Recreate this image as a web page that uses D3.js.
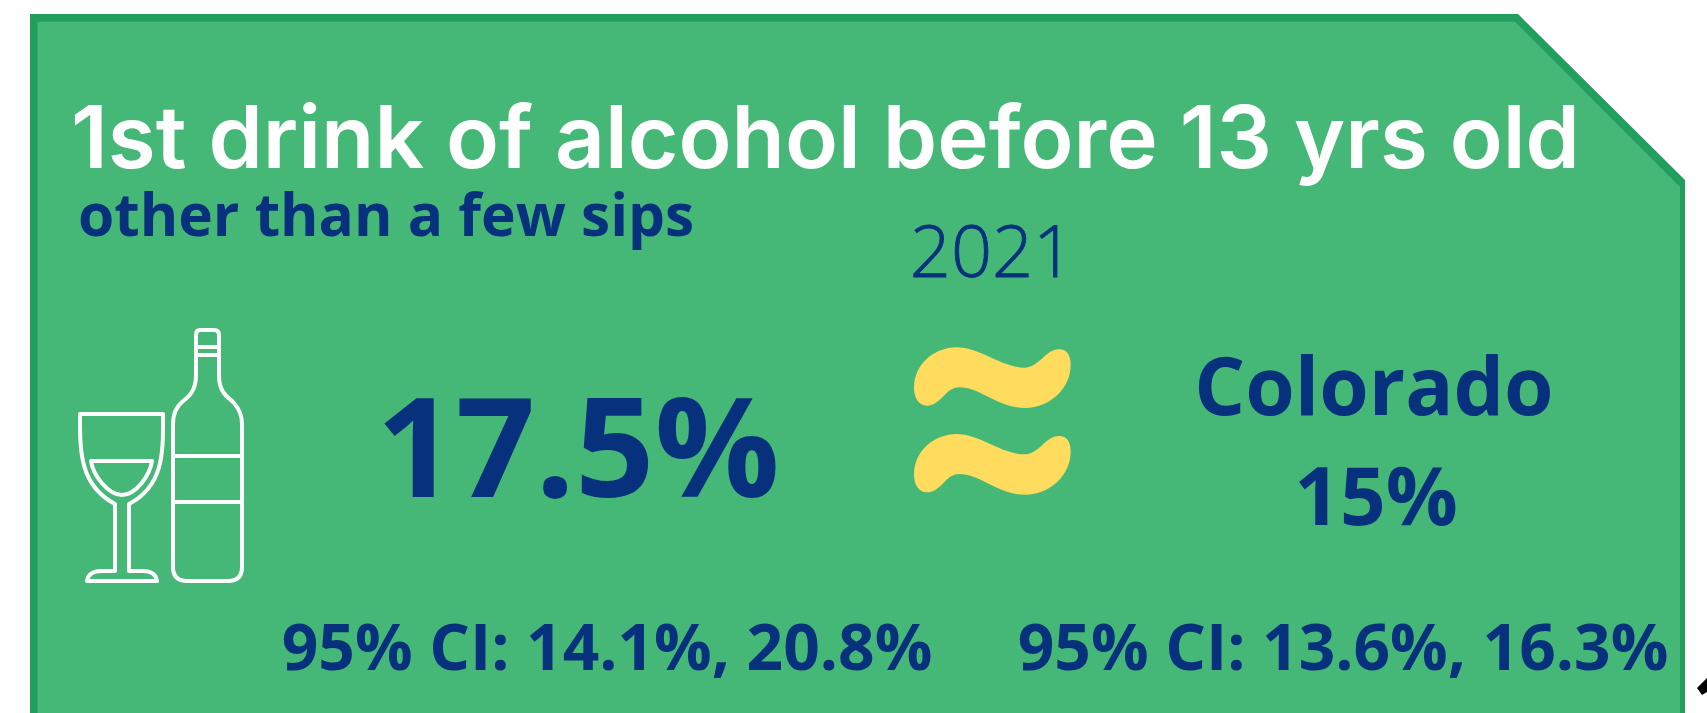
<!DOCTYPE html>
<html lang="en">
<head>
  <meta charset="UTF-8" />
  <title>1st drink of alcohol before 13 yrs old</title>
  <script src="https://cdn.jsdelivr.net/npm/d3@7"></script>
  <style>
    html, body { margin: 0; padding: 0; background: #fff; overflow: hidden; }
    svg { display: block; }
    text { font-family: "Open Sans", sans-serif; }
  </style>
</head>
<body>
  <div id="chart"></div>
  <script>
    // Values
    const years = ["2021"];
    const places = ["State", "Colorado"];
    const rates = [17.5, 15];
    const ciLow = [14.1, 13.6];
    const ciHigh = [20.8, 16.3];

    const width = 1707, height = 713;
    const navy = "#07317c", green = "#45b877", edge = "#229e5f", yellow = "#ffdb5e";

    const svg = d3.select("#chart").append("svg")
      .attr("width", width)
      .attr("height", height);

    // Panel with the cut corner
    svg.append("path")
      .attr("fill", edge)
      .attr("d", "M30,713L30,14L1518,14L1685,180L1685,713Z");
    svg.append("path")
      .attr("fill", green)
      .attr("d", "M37.5,713L37.5,21.7L1515,21.7L1680,187L1680,713Z");

    // Black fragment at the lower right edge of the picture
    svg.append("path")
      .attr("fill", "#000")
      .attr("d", "M1697,688L1707,678L1707,692L1702,695Z");

    function label(txt, x, y, size, weight, fill, anchor) {
      return svg.append("text")
        .attr("x", x)
        .attr("y", y)
        .attr("font-size", size)
        .attr("font-weight", weight)
        .attr("fill", fill)
        .attr("text-anchor", anchor || "start")
        .text(txt);
    }

    const ciText = i => `95% CI: ${ciLow[i].toFixed(1)}%, ${ciHigh[i].toFixed(1)}%`;

    label("1st drink of alcohol before 13 yrs old", 71, 168, 86, 600, "#fff")
      .style("font-family", "Inter, sans-serif")
      .attr("textLength", 1509)
      .attr("lengthAdjust", "spacingAndGlyphs");
    label("other than a few sips", 78, 236, 58.6, 700, navy);
    label(years[0], 992, 277, 72, 300, navy, "middle")
      .attr("stroke", navy)
      .attr("stroke-width", 0.8);
    label(`${rates[0].toFixed(1)}%`, 578, 497, 139, 700, navy, "middle");
    label(places[1], 1374, 415, 80, 700, navy, "middle");
    label(`${rates[1]}%`, 1376, 525, 80, 700, navy, "middle");
    label(ciText(0), 607, 670, 64, 700, navy, "middle");
    label(ciText(1), 1343, 670, 64, 700, navy, "middle");

    // Wine glass and bottle icon
    const icon = svg.append("g")
      .attr("fill", "none")
      .attr("stroke", "#fff")
      .attr("stroke-width", 4)
      .attr("stroke-linejoin", "round");
    [
      "M80,414L163,414C163,450 165,485 129,504L129,571L143,571C152,571 156,575 157,581L87,581C88,575 92,571 101,571L115,571L115,504C79,485 80,450 80,414Z",
      "M91,461L152,461C150,475 136,495 122,495C108,495 93,475 91,461Z",
      "M200,330L214,330Q219,330 219,335L219,375C219,395 230,398 234,403C240,410 242,416 242,424L242,567Q242,581 228,581L187,581Q173,581 173,567L173,424C173,416 175,408 182,402C188,397 196,392 196,375L196,335Q196,330 200,330Z",
      "M196,347L219,347M196,355L219,355M173,456L242,456M173,502L242,502"
    ].forEach(d => icon.append("path").attr("d", d));

    // Yellow "approximately equal" sign
    const squiggle = "M102,205C102,130 165,82 230,82C300,82 365,143 433,143C478,143 495,88 538,88C560,88 572,105 572,135C572,205 510,264 435,264C355,264 300,202 238,202C195,202 185,257 140,257C118,257 102,235 102,205Z";
    [0, 86.7].forEach(dy => {
      svg.append("path")
        .attr("fill", yellow)
        .attr("transform", `translate(880,${320 + dy}) scale(${1 / 3})`)
        .attr("d", squiggle);
    });
  </script>
</body>
</html>
